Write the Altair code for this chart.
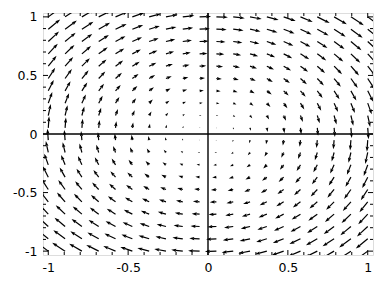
import math
import altair as alt
import pandas as pd

# grid of sample points (20 per axis, from -1 to 1)
grid = [-1.0, -0.8947, -0.7895, -0.6842, -0.5789, -0.4737, -0.3684, -0.2632,
        -0.1579, -0.0526, 0.0526, 0.1579, 0.2632, 0.3684, 0.4737, 0.5789,
        0.6842, 0.7895, 0.8947, 1.0]
major_ticks = [-1.0, -0.5, 0.0, 0.5, 1.0]
minor_ticks = [-0.9, -0.8, -0.7, -0.6, -0.4, -0.3, -0.2, -0.1,
               0.1, 0.2, 0.3, 0.4, 0.6, 0.7, 0.8, 0.9]

W, H = 330, 242
LO, HI = -1.033, 1.033
SX = W / (HI - LO)
SY = H / (HI - LO)
PX_PER_UNIT = 11.5     # arrow length per unit of field magnitude
HEAD = 5.0             # arrow head length (px)

rows = []
for x in grid:
    for y in grid:
        u, v = y, -x          # the field (y, -x)
        mag = math.hypot(u, v)
        L = mag * PX_PER_UNIT
        dxs, dys = u * SX, -v * SY
        n = math.hypot(dxs, dys)
        cx, cy = dxs / n, dys / n
        ang = math.degrees(math.atan2(cy, cx)) % 360
        hl = min(HEAD, L)
        shaft = max(L - 0.9 * hl, 0)
        rows.append(dict(
            x=x, y=y,
            xs=x + shaft * cx / SX, ys=y - shaft * cy / SY,
            xt=x + L * cx / SX, yt=y - L * cy / SY,
            ang=ang, hsize=(2 * hl) ** 2, sw=1.2 * min(1.0, L / HEAD),
        ))
df = pd.DataFrame(rows)

xscale = alt.Scale(domain=[LO, HI], nice=False, zero=False)
yscale = alt.Scale(domain=[LO, HI], nice=False, zero=False)
lab = dict(values=major_ticks, labelExpr="datum.value", ticks=False, tickSize=0,
           domain=False, grid=False, title=None, labelFont="DejaVu Sans",
           labelFontSize=12.5, labelColor="black")
xaxis = alt.Axis(labelPadding=6, **lab)
yaxis = alt.Axis(labelPadding=6, **lab)

base = alt.Chart(df)
shafts = base.mark_rule(color="black", clip=True).encode(
    x=alt.X("x:Q", scale=xscale, axis=xaxis),
    y=alt.Y("y:Q", scale=yscale, axis=yaxis),
    x2="xs:Q", y2="ys:Q",
    strokeWidth=alt.StrokeWidth("sw:Q", scale=None, legend=None),
)
heads = base.mark_point(
    shape="M0,0L-1,-0.33L-0.9,0L-1,0.33Z", filled=True, color="black",
    opacity=1, strokeWidth=0, clip=True,
).encode(
    x=alt.X("xt:Q", scale=xscale, axis=xaxis),
    y=alt.Y("yt:Q", scale=yscale, axis=yaxis),
    angle=alt.Angle("ang:Q", scale=None),
    size=alt.Size("hsize:Q", scale=None, legend=None),
)

zero_h = alt.Chart(pd.DataFrame({"v": [0.0]})).mark_rule(color="black", strokeWidth=1.4).encode(
    y=alt.Y("v:Q", scale=yscale, axis=yaxis))
zero_v = alt.Chart(pd.DataFrame({"v": [0.0]})).mark_rule(color="black", strokeWidth=1.4).encode(
    x=alt.X("v:Q", scale=xscale, axis=xaxis))

tick_layers = []
for vals, ln in ((major_ticks, 5), (minor_ticks, 3)):
    tdf = pd.DataFrame({"t": vals})
    tc = alt.Chart(tdf).mark_rule(color="black", strokeWidth=1)
    tick_layers += [
        tc.encode(y=alt.Y("t:Q", scale=yscale, axis=yaxis), x=alt.value(0), x2=alt.value(ln)),
        tc.encode(y=alt.Y("t:Q", scale=yscale, axis=yaxis), x=alt.value(W), x2=alt.value(W - ln)),
        tc.encode(x=alt.X("t:Q", scale=xscale, axis=xaxis), y=alt.value(H), y2=alt.value(H - ln)),
        tc.encode(x=alt.X("t:Q", scale=xscale, axis=xaxis), y=alt.value(0), y2=alt.value(ln)),
    ]

chart = alt.layer(shafts, heads, zero_h, zero_v, *tick_layers).properties(
    width=W, height=H,
    autosize=alt.AutoSizeParams(type="none"),
    padding={"left": 43, "top": 13, "right": 10, "bottom": 31},
).configure_view(stroke="black", strokeWidth=1.3).configure(background="white")

chart.save("out.html", embed_options={"renderer": "svg", "actions": False})
